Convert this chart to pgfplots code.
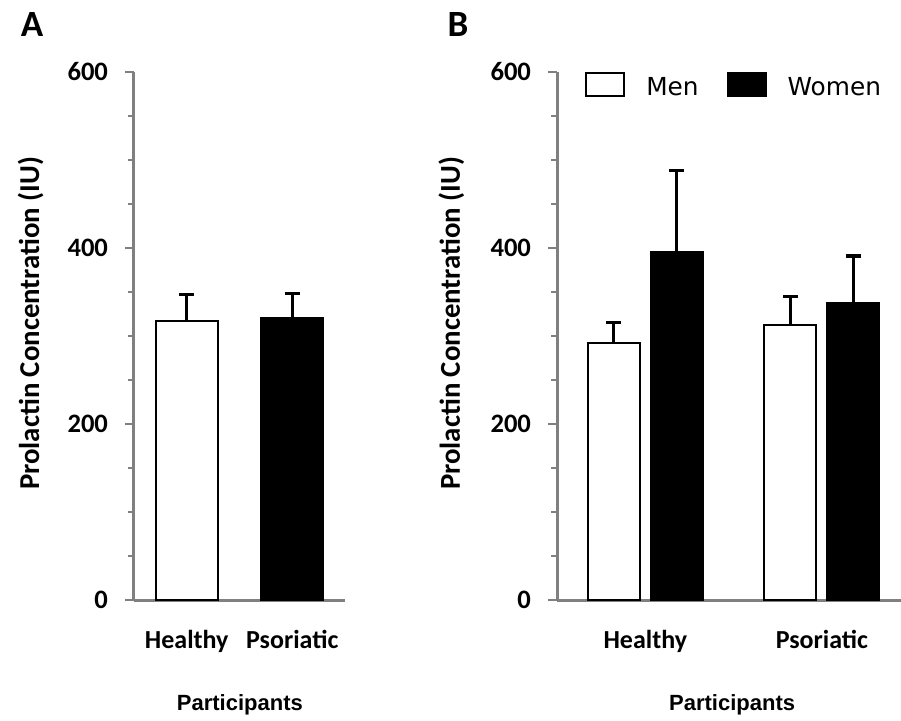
\documentclass[border=0pt]{standalone}
\usepackage{fontspec}
\setmainfont{Carlito}
\newfontfamily\dejavu{DejaVu Sans}
\newfontfamily\libsans{Liberation Sans}
\usepackage{pgfplots}
\pgfplotsset{compat=1.18}
\definecolor{axisgray}{RGB}{128,128,128}
\pgfplotsset{
  panel/.style={
    scale only axis, height=264bp, ymin=0, ymax=600, clip=false,
    axis x line*=bottom, axis y line*=left,
    axis line style={draw=axisgray, line width=1.5bp},
    ytick={0,200,400,600}, minor ytick={50,100,150,250,300,350,450,500,550},
    tick align=outside, major tick length=4.5bp, minor tick length=3bp,
    y tick style={draw=axisgray, line width=1bp},
    x tick style={draw=none}, xtick={0,1}, xticklabels={Healthy,Psoriatic},
    /pgf/number format/assume math mode=true,
    yticklabel style={font=\bfseries\fontsize{13.3bp}{13.3bp}\selectfont, xshift=-5bp},
    xticklabel style={font=\bfseries\fontsize{13bp}{13bp}\selectfont, yshift=-7bp},
    xlabel={Participants},
    ylabel={Prolactin Concentration (IU)},
    xlabel style={anchor=center, font=\libsans\bfseries\fontsize{11bp}{11bp}\selectfont},
    ylabel style={anchor=center, font=\bfseries\fontsize{14.4bp}{14.4bp}\selectfont},
    ybar,
  },
  ebar/.style={error bars/.cd, y dir=plus, y explicit,
    error bar style={line width=1.6bp, black},
    error mark options={rotate=90, line width=1.6bp, mark size=3.75bp, black}},
}
\begin{document}
\begin{tikzpicture}
\useasboundingbox (0,0) rectangle (450.5bp,360.5bp);
\begin{axis}[panel, at={(67bp,60.5bp)}, anchor=south west, width=105.5bp,
  xmin=-0.5, xmax=1.5, bar width=31bp, bar shift=0pt,
  xlabel style={at={(axis description cs:0.502,-0.199)}},
  ylabel style={at={(axis description cs:-0.49,0.524)}}]
\addplot[fill=white, draw=black, line width=1bp, ebar] coordinates {(0,317) +- (0,30)};
\addplot[fill=black, draw=black, line width=1bp, ebar] coordinates {(1,320) +- (0,28)};
\end{axis}
\begin{axis}[panel, at={(278.5bp,60.5bp)}, anchor=south west, width=172bp,
  xmin=-0.5, xmax=1.448, bar width=26bp,
  xlabel style={at={(axis description cs:0.509,-0.199)}},
  ylabel style={at={(axis description cs:-0.307,0.524)}},
  legend style={at={(rel axis cs:0.081,1)}, anchor=north west, draw=none, fill=none,
    inner sep=0pt, font=\dejavu\fontsize{12.4bp}{12.4bp}\selectfont,
    /tikz/every odd column/.append style={column sep=8.5bp},
    /tikz/every even column/.append style={column sep=12bp}},
  legend columns=2, legend cell align=left,
  legend image code/.code={\draw[#1, line width=1bp] (0bp,-4bp) rectangle (19bp,7.2bp);}]
\addplot[fill=white, draw=black, line width=1bp, bar shift=-15.75bp, ebar]
  coordinates {(0,292) +- (0,23) (1,313) +- (0,32)};
\addplot[fill=black, draw=black, line width=1bp, bar shift=15.75bp, ebar]
  coordinates {(0,396) +- (0,92) (1,337) +- (0,54)};
\legend{Men,Women}
\end{axis}
\node[font=\bfseries\fontsize{18.5bp}{18.5bp}\selectfont] at (16bp,348bp) {A};
\node[font=\bfseries\fontsize{18.5bp}{18.5bp}\selectfont] at (229bp,348bp) {B};
\end{tikzpicture}
\end{document}
